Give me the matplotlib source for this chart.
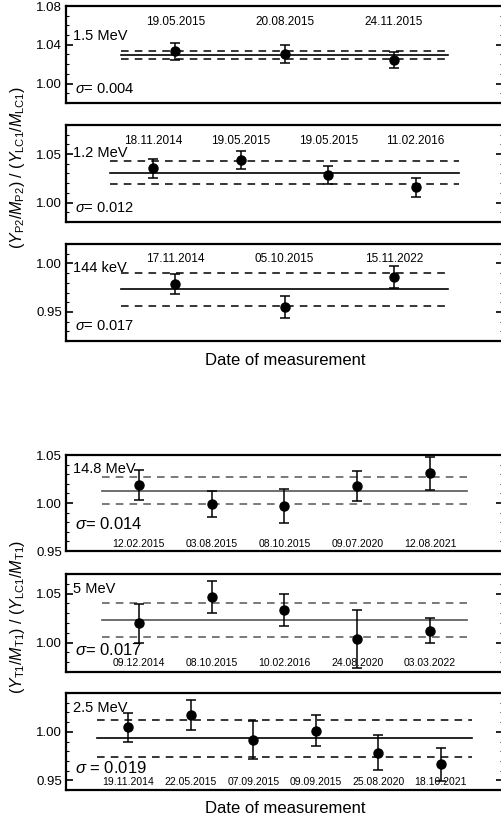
import numpy as np
import matplotlib
matplotlib.use("Agg")
from matplotlib import pyplot as plt
from matplotlib.ticker import MultipleLocator

plt.rcParams['font.family'] = ['Liberation Sans', 'DejaVu Sans']
plt.rcParams['mathtext.fontset'] = 'custom'
plt.rcParams['mathtext.rm'] = 'Liberation Sans'
plt.rcParams['mathtext.it'] = 'Liberation Sans:italic'

# panel data (top group: P2, bottom group: T1)
e15_dates = ["19.05.2015", "20.08.2015", "24.11.2015"]
e15_vals = [1.0331, 1.0305, 1.0246]
e15_err = [0.0085, 0.0091, 0.0083]
e15_sigma = 0.004

e12_dates = ["18.11.2014", "19.05.2015", "19.05.2015", "11.02.2016"]
e12_vals = [1.0354, 1.0436, 1.0286, 1.0156]
e12_err = [0.0097, 0.0092, 0.0092, 0.0094]
e12_sigma = 0.012

k144_dates = ["17.11.2014", "05.10.2015", "15.11.2022"]
k144_vals = [0.9786, 0.9548, 0.9860]
k144_err = [0.0105, 0.0112, 0.0113]
k144_sigma = 0.017

e148_dates = ["12.02.2015", "03.08.2015", "08.10.2015", "09.07.2020", "12.08.2021"]
e148_vals = [1.0188, 0.9990, 0.9969, 1.0180, 1.0310]
e148_err = [0.0155, 0.0140, 0.0177, 0.0158, 0.0173]
e148_sigma = 0.014

e5_dates = ["09.12.2014", "08.10.2015", "10.02.2016", "24.08.2020", "03.03.2022"]
e5_vals = [1.0197, 1.0462, 1.0333, 1.0037, 1.0122]
e5_err = [0.0196, 0.0163, 0.0160, 0.0298, 0.0130]
e5_sigma = 0.017

e25_dates = ["19.11.2014", "22.05.2015", "07.09.2015", "09.09.2015", "25.08.2020", "18.10.2021"]
e25_vals = [1.0045, 1.0176, 0.9917, 1.0013, 0.9785, 0.9665]
e25_err = [0.0145, 0.0155, 0.0195, 0.0161, 0.0177, 0.0168]
e25_sigma = 0.019

W, H = 501, 822
fig = plt.figure(figsize=(W / 100, H / 100), dpi=100)

def mkax(top, bot):
    return fig.add_axes([66 / W, 1 - bot / H, 437 / W, (bot - top) / H])

panels = [
    # label, dates, vals, err, sigma, top, bot, ylim, major, datey, sigtxt, sigy, labely, linecol, datefs, sigfs
    ("1.5 MeV", e15_dates, e15_vals, e15_err, e15_sigma, 6, 103, (0.98, 1.08), 0.04, 0.84, "$\\sigma$= ", 0.14, 0.69, 'k', 8.5, 10.5),
    ("1.2 MeV", e12_dates, e12_vals, e12_err, e12_sigma, 125, 222, (0.98, 1.08), 0.05, 0.84, "$\\sigma$= ", 0.145, 0.71, 'k', 8.5, 10.5),
    ("144 keV", k144_dates, k144_vals, k144_err, k144_sigma, 244, 341, (0.92, 1.02), 0.05, 0.845, "$\\sigma$= ", 0.155, 0.75, 'k', 8.5, 10.5),
    ("14.8 MeV", e148_dates, e148_vals, e148_err, e148_sigma, 455, 551, (0.95, 1.05), 0.05, 0.075, "$\\sigma$= ", 0.28, 0.85, '#555555', 7.5, 12),
    ("5 MeV", e5_dates, e5_vals, e5_err, e5_sigma, 574, 672, (0.97, 1.07), 0.05, 0.09, "$\\sigma$= ", 0.22, 0.85, '#555555', 7.5, 12),
    ("2.5 MeV", e25_dates, e25_vals, e25_err, e25_sigma, 693, 790, (0.94, 1.04), 0.05, 0.085, "$\\sigma$ = ", 0.23, 0.85, 'k', 7.5, 12),
]

for (lab, dates, vals, err, sig, top, bot, ylim, major, datey, sigtxt, sigy, laby, lc, dfs, sfs) in panels:
    ax = mkax(top, bot)
    n = len(vals)
    x = np.arange(n)
    m = np.mean(vals)
    ax.plot([-0.5, n - 0.5], [m, m], color=lc, lw=1.2)
    ax.plot([-0.5, n - 0.5], [m + sig, m + sig], color=lc, lw=1.1, ls=(0, (5, 4)))
    ax.plot([-0.5, n - 0.5], [m - sig, m - sig], color=lc, lw=1.1, ls=(0, (5, 4)))
    ax.errorbar(x, vals, yerr=err, fmt='o', color='k', ms=6.5, capsize=3.5,
                elinewidth=1.1, capthick=1.1)
    ax.set_xlim(-1, n)
    ax.set_ylim(*ylim)
    ax.yaxis.set_major_locator(MultipleLocator(major))
    ax.yaxis.set_minor_locator(MultipleLocator(0.01))
    ax.yaxis.set_major_formatter(matplotlib.ticker.FormatStrFormatter('%.2f'))
    ax.set_xticks([])
    ax.tick_params(axis='y', which='major', direction='in', length=5, width=1.2,
                   right=True, labelsize=9.5, pad=3)
    ax.tick_params(axis='y', which='minor', direction='in', length=2.5, width=0.8, right=True)
    for s in ax.spines.values():
        s.set_linewidth(1.6)
    for xi, d in zip(x, dates):
        ax.text(xi, datey, d, transform=ax.get_xaxis_transform(), ha='center',
                va='center', fontsize=dfs)
    ax.text(0.015, laby, lab, transform=ax.transAxes, ha='left', va='center', fontsize=10.5)
    ax.text(0.02, sigy, sigtxt + "%.3f" % sig, transform=ax.transAxes, ha='left',
            va='center', fontsize=sfs)

fig.text(18 / W, 1 - 168 / H,
         r"$(Y_{\mathrm{P2}}/M_{\mathrm{P2}})$ / $(Y_{\mathrm{LC1}}/M_{\mathrm{LC1}})$",
         rotation=90, ha='center', va='center', fontsize=11.5)
fig.text(18 / W, 1 - 617 / H,
         r"$(Y_{\mathrm{T1}}/M_{\mathrm{T1}})$ / $(Y_{\mathrm{LC1}}/M_{\mathrm{T1}})$",
         rotation=90, ha='center', va='center', fontsize=11.5)
fig.text(285 / W, 1 - 360 / H, "Date of measurement", ha='center', va='center', fontsize=12)
fig.text(285 / W, 1 - 808 / H, "Date of measurement", ha='center', va='center', fontsize=12)

fig.savefig("out.png", dpi=100)
